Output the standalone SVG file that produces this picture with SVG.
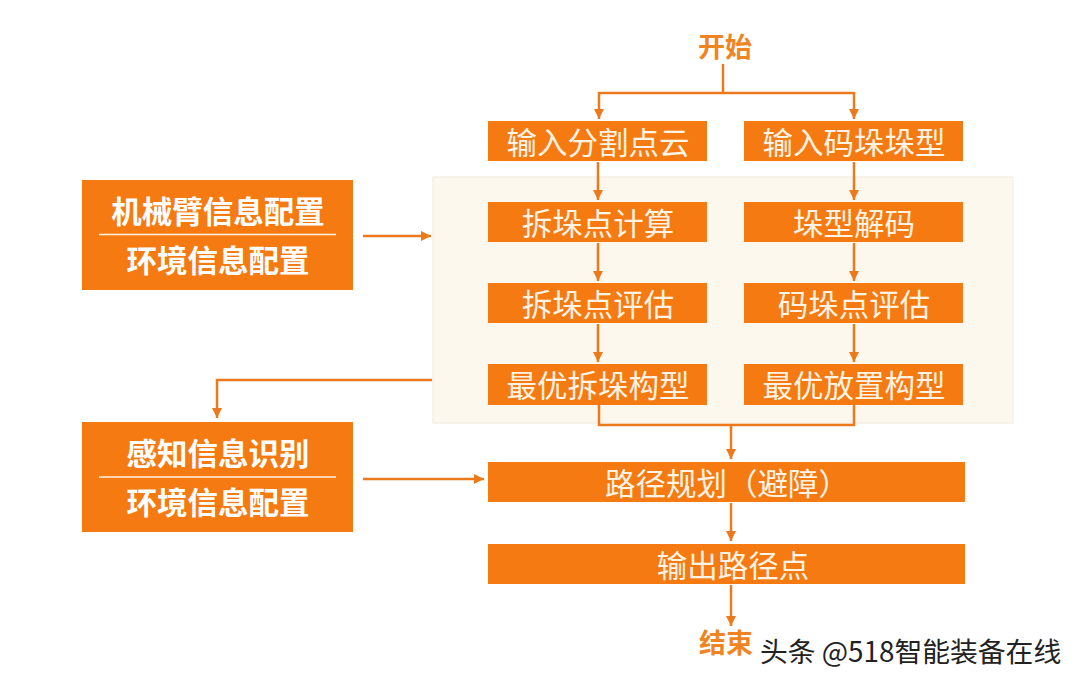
<svg xmlns="http://www.w3.org/2000/svg" width="1080" height="683" viewBox="0 0 1080 683">
<defs>
<marker id="ah" viewBox="0 0 10 10" refX="10" refY="5" markerWidth="10" markerHeight="10" markerUnits="userSpaceOnUse" orient="auto">
<path d="M0,0 L10,5 L0,10 z" fill="#EC7A1C"/>
</marker>
<style>
.box{fill:#F57A12;}
.bt{font-family:"Noto Sans CJK SC","Noto Sans",sans-serif;font-size:30.5px;fill:#FFF3E4;text-anchor:middle;dominant-baseline:central;}
.lt{font-family:"Noto Sans CJK SC","Noto Sans",sans-serif;font-size:30.5px;font-weight:bold;fill:#FFFFFF;text-anchor:middle;dominant-baseline:central;}
.term{font-family:"Noto Sans CJK SC","Noto Sans",sans-serif;font-size:27px;font-weight:bold;fill:#EF8425;text-anchor:middle;dominant-baseline:central;}
.c{fill:none;stroke:#EC7A1C;stroke-width:2.5;}
.ca{fill:none;stroke:#EC7A1C;stroke-width:2.5;marker-end:url(#ah);}
</style>
</defs>
<rect width="1080" height="683" fill="#FFFFFF"/>
<rect id="panel" x="433" y="177" width="580" height="246" fill="#FDF8EE" stroke="#F2EADC" stroke-width="1"/>

<g id="connectors">
<path class="c" d="M723,64 V93"/>
<path class="c" d="M599,93 H854"/>
<path class="ca" d="M599,92 V119"/>
<path class="ca" d="M854,92 V119"/>
<path class="ca" d="M598,162 V200"/>
<path class="ca" d="M854,162 V200"/>
<path class="ca" d="M598,243 V281"/>
<path class="ca" d="M854,243 V281"/>
<path class="ca" d="M598,324 V362"/>
<path class="ca" d="M854,324 V362"/>
<path class="c" d="M599,405 V425 H854 V405"/>
<path class="ca" d="M731,424 V459"/>
<path class="ca" d="M731,503 V541"/>
<path class="ca" d="M731,585 V626"/>
<path class="ca" d="M363,236 H431"/>
<path class="ca" d="M363,479 H484"/>
<path class="ca" d="M432,380 H217 V418"/>
</g>

<g id="start"><text class="term" x="725" y="45">开始</text></g>

<g id="n1"><rect class="box" x="488" y="121" width="219" height="40"/><text class="bt" x="598" y="141">输入分割点云</text></g>
<g id="n2"><rect class="box" x="744" y="121" width="219" height="40"/><text class="bt" x="854" y="141">输入码垛垛型</text></g>
<g id="n3"><rect class="box" x="488" y="202" width="219" height="40"/><text class="bt" x="598" y="222">拆垛点计算</text></g>
<g id="n4"><rect class="box" x="744" y="202" width="219" height="40"/><text class="bt" x="854" y="222">垛型解码</text></g>
<g id="n5"><rect class="box" x="488" y="283" width="219" height="40"/><text class="bt" x="598" y="303">拆垛点评估</text></g>
<g id="n6"><rect class="box" x="744" y="283" width="219" height="40"/><text class="bt" x="854" y="303">码垛点评估</text></g>
<g id="n7"><rect class="box" x="488" y="364" width="219" height="41"/><text class="bt" x="598" y="384">最优拆垛构型</text></g>
<g id="n8"><rect class="box" x="744" y="364" width="219" height="41"/><text class="bt" x="854" y="384">最优放置构型</text></g>

<g id="n9"><rect class="box" x="488" y="462" width="477" height="40"/><text class="bt" x="727" y="482">路径规划（避障）</text></g>
<g id="n10"><rect class="box" x="488" y="544" width="477" height="40"/><text class="bt" x="733" y="564">输出路径点</text></g>

<g id="left1"><rect class="box" x="82" y="180" width="271" height="110"/><text class="lt" x="218" y="210">机械臂信息配置</text><line x1="99" y1="234.5" x2="336" y2="234.5" stroke="#FFF3E4" stroke-width="1.5"/><text class="lt" x="218" y="259">环境信息配置</text></g>
<g id="left2"><rect class="box" x="82" y="422" width="271" height="110"/><text class="lt" x="218" y="452">感知信息识别</text><line x1="99" y1="477" x2="336" y2="477" stroke="#FFF3E4" stroke-width="1.5"/><text class="lt" x="218" y="501">环境信息配置</text></g>

<g id="end"><text class="term" x="726" y="641">结束</text></g>

<text x="760" y="650" font-family="Noto Sans CJK SC,Noto Sans,sans-serif" font-size="27.8" fill="#222222" stroke="#FFFFFF" stroke-width="0.8" paint-order="stroke" dominant-baseline="central">头条 @518智能装备在线</text>
</svg>
